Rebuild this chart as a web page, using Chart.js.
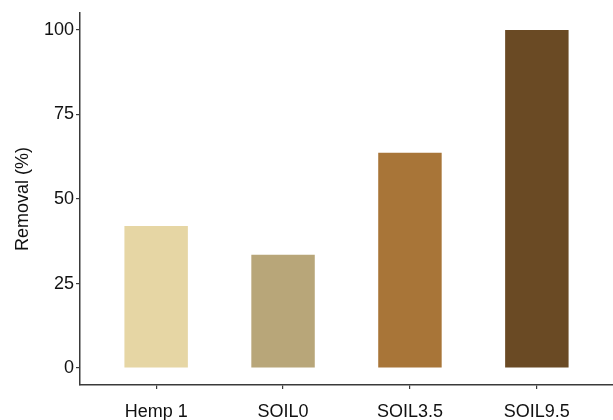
<!DOCTYPE html>
<html>
<head>
<meta charset="utf-8">
<script src="https://cdn.jsdelivr.net/npm/chart.js@4/dist/chart.umd.min.js"></script>
<style>
  html, body { margin: 0; padding: 0; background: #fff; }
  #wrap { width: 613px; height: 420px; position: relative; }
</style>
</head>
<body>
<div id="wrap"><canvas id="chart"></canvas></div>
<script>
// Data
const categories = ['Hemp 1', 'SOIL0', 'SOIL3.5', 'SOIL9.5'];
const removal = [42, 33.5, 63.7, 100];
const barColors = ['#E6D6A4', '#B8A679', '#A87538', '#6A4A24'];
const yTicks = [0, 25, 50, 75, 100];

const axisColor = '#3a3a3a';
const textColor = '#111111';

const ctx = document.getElementById('chart').getContext('2d');
new Chart(ctx, {
    type: 'bar',
    data: {
        datasets: [{
            data: removal.map((v, i) => ({ x: i, y: v })),
            backgroundColor: barColors,
            borderWidth: 0,
            barPercentage: 0.5,
            categoryPercentage: 1
        }]
    },
    options: {
        responsive: true,
        maintainAspectRatio: false,
        animation: false,
        layout: { padding: { top: 13, right: 0, left: 0, bottom: 0 } },
        plugins: {
            legend: { display: false },
            tooltip: { enabled: false }
        },
        scales: {
            x: {
                type: 'linear',
                offset: false,
                min: -0.6,
                max: categories.length - 0.4,
                afterBuildTicks: scale => {
                    scale.ticks = categories.map((c, i) => ({ value: i }));
                },
                afterFit: scale => { scale.height = 35; },
                ticks: {
                    autoSkip: false,
                    maxRotation: 0,
                    padding: 12,
                    color: textColor,
                    font: { family: 'Liberation Sans', size: 18 },
                    callback: value => categories[value]
                },
                grid: {
                    display: true,
                    offset: false,
                    drawOnChartArea: false,
                    drawTicks: true,
                    tickLength: 4,
                    color: axisColor,
                    lineWidth: 1.2
                },
                border: { display: true, color: axisColor, width: 1.5 }
            },
            y: {
                min: -5,
                max: 105,
                afterBuildTicks: scale => {
                    scale.ticks = yTicks.map(v => ({ value: v }));
                },
                afterFit: scale => { scale.width = 80; },
                ticks: {
                    padding: 2,
                    color: textColor,
                    font: { family: 'Liberation Sans', size: 18 }
                },
                grid: {
                    display: true,
                    drawOnChartArea: false,
                    drawTicks: true,
                    tickLength: 4,
                    color: axisColor,
                    lineWidth: 1.2
                },
                border: { display: true, color: axisColor, width: 1.5 },
                title: {
                    display: true,
                    text: 'Removal (%)',
                    color: textColor,
                    font: { family: 'Liberation Sans', size: 18 },
                    padding: { top: 12, bottom: 0 }
                }
            }
        }
    }
});
</script>
</body>
</html>
